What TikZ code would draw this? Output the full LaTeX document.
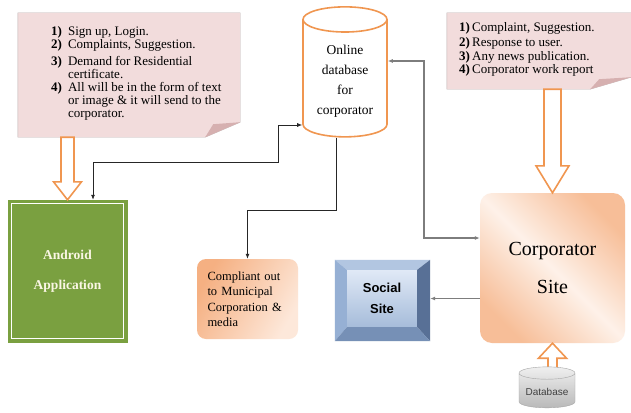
\documentclass[tikz,border=0pt]{standalone}
\usepackage{fontspec}
\setmainfont{Liberation Serif}
\newfontfamily\arialfont{Liberation Sans}
\usetikzlibrary{calc,shapes.geometric,arrows.meta}
\definecolor{notepink}{RGB}{242,220,220}
\definecolor{noteedge}{RGB}{190,178,178}
\definecolor{notefold}{RGB}{214,176,176}
\definecolor{arroworange}{RGB}{240,150,80}
\definecolor{androidgreen}{RGB}{122,160,64}
\definecolor{androidtext}{RGB}{250,246,228}
\definecolor{peachdark}{RGB}{245,176,130}
\definecolor{peachlight}{RGB}{253,232,218}
\definecolor{socialtop}{RGB}{178,198,225}
\definecolor{socialleft}{RGB}{150,176,212}
\definecolor{socialright}{RGB}{88,112,150}
\definecolor{socialbottom}{RGB}{118,144,182}
\definecolor{socialfacelight}{RGB}{224,233,246}
\definecolor{socialfacedark}{RGB}{166,188,218}
\definecolor{linegray}{RGB}{125,125,125}
\def\blockarrow[#1](#2)(#3)(#4:#5:#6){\draw[#1] let \p1=(#2), \p2=(#3) in (\x2-#4pt,\y1) -- (\x2-#4pt,\y2+#6pt) -- (\x2-#5pt,\y2+#6pt) -- (\x2,\y2) -- (\x2+#5pt,\y2+#6pt) -- (\x2+#4pt,\y2+#6pt) -- (\x2+#4pt,\y1) -- cycle;}

\begin{document}
\begin{tikzpicture}[x=1pt, y=-1pt, >={Latex[length=5pt,width=4pt]},
		link/.style={draw=black!85, line width=0.8pt},
		grlink/.style={draw=linegray, line width=1.4pt},
		fat/.style={draw=arroworange, fill=white, line width=1.6pt, line join=miter},
		notetext/.style={anchor=north west, inner sep=0pt, align=left}]
		%%%%% START %%%%%
		
		\fill[white] (0,0) rectangle (631,412);
		\useasboundingbox (0,0) rectangle (631,412);
		
		% left note
		\node[minimum width=222pt, minimum height=124pt] (noteA) at (129,75) {};
		\draw[fill=notepink, draw=noteedge] (noteA.north west) -- (noteA.north east) -- ($(noteA.south east)+(0,15pt)$) -- ($(noteA.south east)+(-35pt,0)$) -- (noteA.south west) -- cycle;
		\fill[notefold] ($(noteA.south east)+(0,15pt)$) -- ($(noteA.south east)+(-27pt,13pt)$) -- ($(noteA.south east)+(-35pt,0)$) -- cycle;
		\node[notetext] (noteAtext) at (51,26) {\fontsize{13}{13}\selectfont
			\begin{tabular}{@{}l@{\hspace{6pt}}l@{}}
				\textbf{1)} & Sign up, Login.\\
				\textbf{2)} & Complaints, Suggestion.\\[4pt]
				\textbf{3)} & Demand for Residential\\
				& certificate.\\
				\textbf{4)} & All will be in the form of text\\
				& or image \& it will send to the\\
				& corporator.
			\end{tabular}};
		
		% right note
		\node[minimum width=184pt, minimum height=76pt] (noteB) at (539,51) {};
		\draw[fill=notepink, draw=noteedge] (noteB.north west) -- (noteB.north east) -- ($(noteB.south east)+(0,12pt)$) -- ($(noteB.south east)+(-41pt,0)$) -- (noteB.south west) -- cycle;
		\fill[notefold] ($(noteB.south east)+(0,12pt)$) -- ($(noteB.south east)+(-32pt,10pt)$) -- ($(noteB.south east)+(-41pt,0)$) -- cycle;
		\node[notetext] (noteBtext) at (459,22) {\fontsize{13}{14}\selectfont
			\begin{tabular}{@{}l@{}}
				\textbf{1)}\,Complaint, Suggestion.\\
				\textbf{2)}\,Response to user.\\
				\textbf{3)}\,Any news publication.\\
				\textbf{4)}\,Corporator work report
			\end{tabular}};
		
		% boxes
		\node[cylinder, shape border rotate=90, aspect=0.4, draw=arroworange, line width=1.6pt, fill=white, minimum width=84pt, minimum height=130pt, align=center, font=\fontsize{13.5}{20}\selectfont] (onlineDb) at (345,81) {Online\\database\\for\\corporator};
		
		\node[fill=androidgreen, draw=androidgreen, minimum width=119pt, minimum height=142pt, text=androidtext, align=center, font=\fontsize{13.5}{30}\selectfont\bfseries] (android) at (67.5,271) {Android\\Application};
		\draw[white, line width=1pt] ($(android.south west)+(4pt,4pt)$) rectangle ($(android.north east)-(4pt,4pt)$);
		
		\node[rounded corners=9pt, left color=peachdark, right color=peachlight, shading angle=60, minimum width=101pt, minimum height=80pt, text width=80pt, align=left, font=\fontsize{12.5}{15.5}\selectfont] (compliant) at (247.5,299) {Compliant out\\to Municipal\\Corporation \&\\media};
		
		\node[top color=socialfacelight, bottom color=socialfacedark, minimum width=70pt, minimum height=57pt, align=center, font=\arialfont\bfseries\fontsize{13}{21}\selectfont] (social) at (382,298.5) {Social\\Site};
		\fill[socialtop] ($(social.north west)+(-12pt,10pt)$) -- ($(social.north east)+(13pt,10pt)$) -- (social.north east) -- (social.north west) -- cycle;
		\fill[socialleft] ($(social.north west)+(-12pt,10pt)$) -- (social.north west) -- (social.south west) -- ($(social.south west)+(-12pt,-14pt)$) -- cycle;
		\fill[socialright] ($(social.north east)+(13pt,10pt)$) -- ($(social.south east)+(13pt,-14pt)$) -- (social.south east) -- (social.north east) -- cycle;
		\fill[socialbottom] ($(social.south west)+(-12pt,-14pt)$) -- (social.south west) -- (social.south east) -- ($(social.south east)+(13pt,-14pt)$) -- cycle;
		
		\node[rounded corners=12pt, top color=peachdark!75!peachlight, bottom color=peachdark!75!peachlight, middle color=peachlight!60!white, shading angle=-45, minimum width=145pt, minimum height=150pt, align=center, font=\fontsize{20}{38}\selectfont] (corp) at (552.5,268) {Corporator\\Site};
		
		% hollow arrows
		\blockarrow[fat](noteA.south -| android.north)(android.north)(6.5:14:18)
		\blockarrow[fat](noteB.south -| corp.north)(corp.north)(8.5:16.5:27)
		\blockarrow[fat](552.5,380)(corp.south)(4.5:14:(-15))
		
		\node[cylinder, shape border rotate=90, aspect=0.25, draw=gray!70, top color=gray!12, bottom color=gray!55, minimum width=56pt, minimum height=41pt, text=black!75, font=\arialfont\fontsize{10}{12}\selectfont] (db) at (547,392) {Database};
		
		% connectors
		\coordinate (bendA) at (278,162);
		\draw[link, <->] ([xshift=25.5pt]android.north) |- (bendA) |- ([yshift=-44pt]onlineDb.west);
		
		\coordinate (bendB) at (247.5,210);
		\draw[link, ->] ([xshift=-9pt]onlineDb.south) |- (bendB) -- (compliant.north);
		
		\coordinate (bendC) at (424,150);
		\draw[grlink, <->] ([yshift=30pt]corp.west) -| (bendC) |- ([yshift=20pt]onlineDb.east);
		
		\draw[grlink, ->] (social.east -| corp.west) -- ([xshift=13pt]social.east);
		
		%%%%% END %%%%%
	\end{tikzpicture}
\end{document}
